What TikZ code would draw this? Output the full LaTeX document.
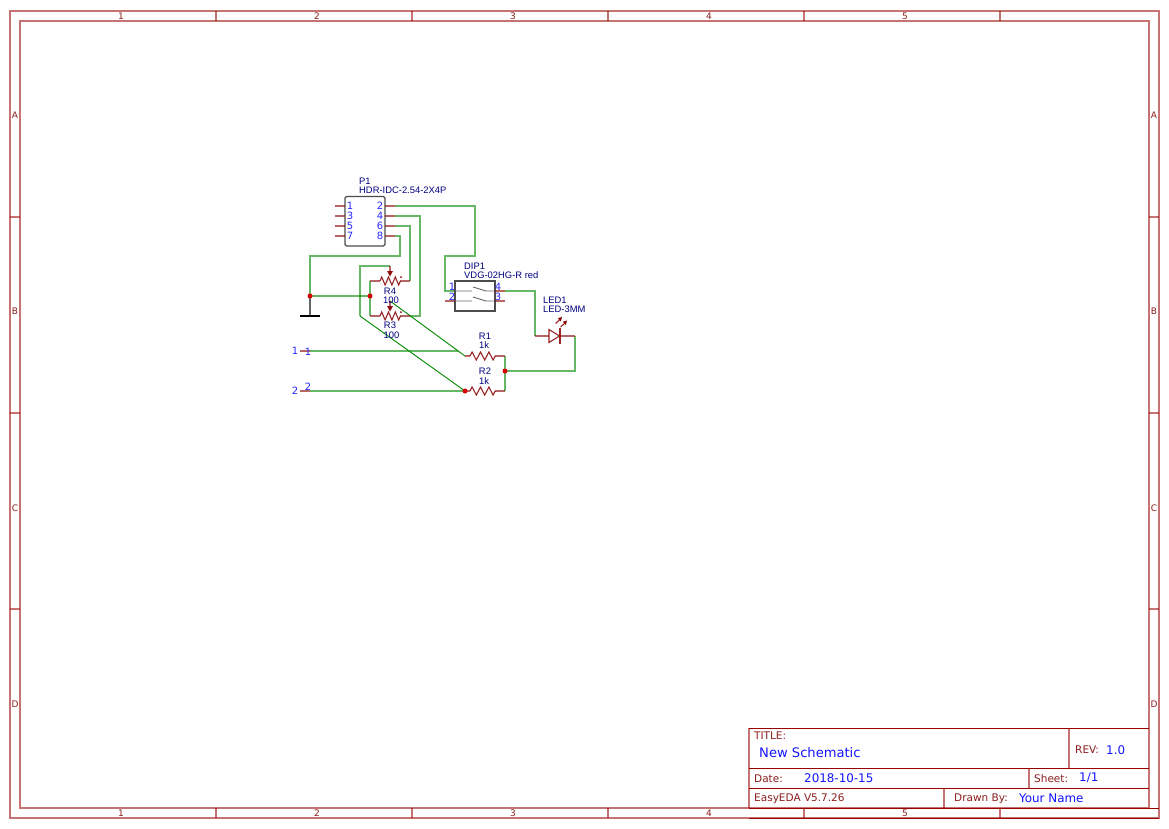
\documentclass[tikz,border=0pt]{standalone}
\usepackage{fontspec}
\setmainfont{DejaVu Sans}
\newfontfamily\partfont{Liberation Sans}
\definecolor{frameC}{RGB}{153,0,0}
\definecolor{frameT}{RGB}{140,30,30}
\definecolor{partC}{RGB}{136,0,0}
\definecolor{wireC}{RGB}{0,136,0}
\definecolor{pinB}{RGB}{40,40,255}
\definecolor{lblC}{RGB}{0,0,128}
\definecolor{valC}{RGB}{20,20,255}
\tikzset{
 framel/.style={draw=frameC,draw opacity=.55,line width=1.4pt},
 framed/.style={draw=frameC,line width=.9pt},
 tick/.style={text=frameT,font=\fontsize{9}{9}\selectfont,inner sep=0pt},
 tb/.style={text=frameT,font=\fontsize{10.5}{11}\selectfont,inner sep=0pt,anchor=west},
 tv/.style={text=valC,font=\fontsize{11.9}{12}\selectfont,inner sep=0pt,anchor=west},
 wire/.style={draw=wireC,draw opacity=.6,line width=1.5pt,line join=miter},
 wirethin/.style={draw=wireC,line width=.9pt},
 pinl/.style={draw=partC,draw opacity=.6,line width=1.4pt},
 sym/.style={draw=partC,draw opacity=.85,line width=1.1pt,line join=miter},
 pnum/.style={text=pinB,font=\fontsize{10}{10}\selectfont,inner sep=0pt},
 lbl/.style={text=lblC,font=\partfont\fontsize{9.4}{10}\selectfont,inner sep=0pt},
 jdot/.style={circle,fill=red!85!black,draw=none,minimum size=5pt,inner sep=0pt},
 partbox/.style={draw=black!70,line width=1.2pt}
}
% #1 pin left, #2 zigzag start, #3 half-wave step, #4 pin right, #5 y
\newcommand{\rzig}[5]{%
 \draw[pinl] (#1,#5) -- (#2,#5);
 \draw[sym] (#2,#5) -- ++(#3/2,-4) -- ++(#3,8) -- ++(#3,-8) -- ++(#3,8) -- ++(#3,-8) -- ++(#3,8) -- ++(#3/2,-4) coordinate (zend);
 \draw[pinl] (zend) -- (#4,#5);
}
\begin{document}
\begin{tikzpicture}[x=1pt,y=-1pt]
\useasboundingbox (0,0) rectangle (1169,828);
\fill[white] (0,0) rectangle (1169,828);
% frame
\draw[framel] (10,11) rectangle (1159,818);
\draw[framel] (20,21) rectangle (1149,808);
\foreach \x in {216,412,608,804,1000}{
 \draw[framel] (\x,11) -- (\x,21);
 \draw[framel] (\x,808) -- (\x,818);
}
\foreach \y in {217,413,609}{
 \draw[framel] (10,\y) -- (20,\y);
 \draw[framel] (1149,\y) -- (1159,\y);
}
\draw[framed] (749,808) -- (1149,808) (749,818) -- (1159,818) (1149,808) -- (1159,808);
\foreach \x [count=\i] in {121,317,513,709,905}{
 \node[tick] (tt\i) at (\x,16) {\i};
 \node[tick] (tb\i) at (\x,813) {\i};
}
\foreach \y/\l in {115/A,311/B,508/C,704/D}{
 \node[tick] (tl\l) at (15,\y) {\l};
 \node[tick] (tr\l) at (1154,\y) {\l};
}
% title block
\draw[framel] (749,728) -- (749,808) (1069,728) -- (1069,768) (1029,768) -- (1029,788) (944,788) -- (944,808);
\draw[framed] (749,728) -- (1149,728) (749,768) -- (1149,768) (749,788) -- (1149,788);
\node[tb] (ttl) at (754,736) {TITLE:};
\node[tv,font=\fontsize{13.1}{14}\selectfont] (tname) at (759,753) {New Schematic};
\node[tb] (trev) at (1075,750) {REV:};
\node[tv] (trv) at (1106,750) {1.0};
\node[tb] (tdate) at (754,779) {Date:};
\node[tv] (tdv) at (804,778) {2018-10-15};
\node[tb] (tsh) at (1034,779) {Sheet:};
\node[tv] (tsv) at (1079,778) {1/1};
\node[tb] (tver) at (754,799) {EasyEDA V5.7.26};
\node[tb] (tdr) at (954,799) {Drawn By:};
\node[tv] (tyn) at (1019,798) {Your Name};

% named connection points
\coordinate (p2) at (395,206);
\coordinate (p4) at (395,216);
\coordinate (p6) at (395,226);
\coordinate (p8) at (395,236);
\coordinate (r4l) at (370,281);
\coordinate (r4r) at (410,281);
\coordinate (r3l) at (370,316);
\coordinate (r3r) at (410,316);
\coordinate (r4w) at (390,266);
\coordinate (r3w) at (390,301);
\coordinate (r1l) at (465,356);
\coordinate (r1r) at (505,356);
\coordinate (r2r) at (505,391);
\coordinate (d1) at (455,291);
\coordinate (d4) at (505,291);
\coordinate (ledA) at (535,336);
\coordinate (ledK) at (575,336);
\coordinate (n1) at (310,351);
\coordinate (n2) at (310,391);
\coordinate (hit) at (458,351);
\coordinate (gndt) at (310,316);

% GND
\draw[draw=black!60,line width=1.4pt] (310,296) -- (gndt);
\draw[draw=black,line width=1.8pt] (300,316) -- (320,316);

% wires
\draw[wire] (p2) -- (475,206) -- (475,256) -- (445,256) -- (445,291) -- (d1);
\draw[wire] (p4) -- (420,216) -- (420,316) -- (r3r);
\draw[wire] (p6) -- (410,226) -- (r4r);
\draw[wire] (p8) -- (400,236) -- (400,256) -- (310,256) -- (310,296);
\draw[wire] (310,296) -- (370,296);
\draw[wire] (r4l) -- (r3l);
\draw[wire] (r4w) -- (360,266) -- (360,316);
\draw[wirethin] (360,316) -- (465,391);
\draw[wirethin] (r3w) -- (r1l);
\draw[wire] (n1) -- (hit);
\draw[wire] (n2) -- (465,391);
\draw[wire] (r1r) -- (r2r);
\draw[wire] (505,371) -- (575,371) -- (ledK);
\draw[wire] (d4) -- (535,291) -- (ledA);

% P1
\draw[partbox,rounded corners=1.5pt] (345,196.5) rectangle (385,246);
\foreach \y/\a/\b in {206/1/2,216/3/4,226/5/6,236/7/8}{
 \draw[pinl] (335,\y) -- (345,\y) (385,\y) -- (395,\y);
 \node[pnum] (pa\a) at (350,\y) {\a};
 \node[pnum] (pb\b) at (380,\y) {\b};
}
\node[lbl,anchor=west] (lp1) at (359,181) {P1};
\node[lbl,anchor=west] (lp1v) at (359,190) {HDR-IDC-2.54-2X4P};

% resistors
\rzig{370}{380}{3.4}{410}{281}
\rzig{370}{380}{3.4}{410}{316}
\rzig{465}{470}{4.2}{505}{356}
\rzig{465}{470}{4.2}{505}{391}
\foreach \cx/\cy in {401/277,401/312}{
 \fill[partC] (\cx,\cy) circle (1pt);
}
% wipers
\foreach \y in {266,301}{
 \draw[pinl] (390,\y) -- (390,\y+9);
 \fill[partC,opacity=.9] (387,\y+5) -- (393,\y+5) -- (390,\y+10.5) -- cycle;
}
\node[lbl] (lr4) at (390,291) {R4};
\node[lbl] (lr4v) at (391,300) {100};
\node[lbl] (lr3) at (390,325) {R3};
\node[lbl] (lr3v) at (391.5,335) {100};
\node[lbl] (lr1) at (485,336) {R1};
\node[lbl] (lr1v) at (484,345) {1k};
\node[lbl] (lr2) at (485,371) {R2};
\node[lbl] (lr2v) at (484,381) {1k};

% DIP
\draw[partbox] (455,281) rectangle (495,311);
\draw[pinl] (445,301) -- (455,301) (495,301) -- (505,301) (495,291) -- (505,291);
\draw[draw=black!60,line width=.9pt] (455,291) -- (472,291) (473,287) -- (486,291) (486,291) -- (495,291);
\draw[draw=black!60,line width=.9pt] (455,301) -- (472,301) (473,297) -- (486,301) (486,301) -- (495,301);
\node[pnum] (d1n) at (452,286.5) {1};
\node[pnum] (d2n) at (452,296.5) {2};
\node[pnum] (d4n) at (498,286.5) {4};
\node[pnum] (d3n) at (498,296.5) {3};
\node[lbl,anchor=west] (ldip) at (464,266) {DIP1};
\node[lbl,anchor=west] (ldipv) at (464,275) {VDG-02HG-R red};

% LED
\draw[pinl] (ledA) -- (549,336) (560,336) -- (ledK);
\draw[sym] (549,329.5) -- (559.5,336) -- (549,342.5) -- cycle;
\draw[sym] (560,328) -- (560,343.5);
\draw[sym] (555.5,323.5) -- (560,319.5);
\draw[sym] (560.5,327) -- (565,323);
\fill[partC] (562,317) -- (557.8,318.2) -- (560.8,321.4) -- cycle;
\fill[partC] (567,320.5) -- (562.8,321.7) -- (565.8,324.9) -- cycle;
\node[lbl,anchor=west] (lled) at (543,300) {LED1};
\node[lbl,anchor=west] (lledv) at (543,309) {LED-3MM};

% net flags
\draw[pinl] (300,351) -- (n1) (300,391) -- (n2);
\node[pnum] (f1) at (295,351) {1};
\node[pnum] (f2) at (295,391) {2};
\node[pnum] (f1b) at (308,352) {1};
\node[pnum] (f2b) at (308,387) {2};

% junctions
\node[jdot] (j1) at (310,296) {};
\node[jdot] (j2) at (370,296) {};
\node[jdot] (j3) at (465,391) {};
\node[jdot] (j4) at (505,371) {};
\end{tikzpicture}
\end{document}
